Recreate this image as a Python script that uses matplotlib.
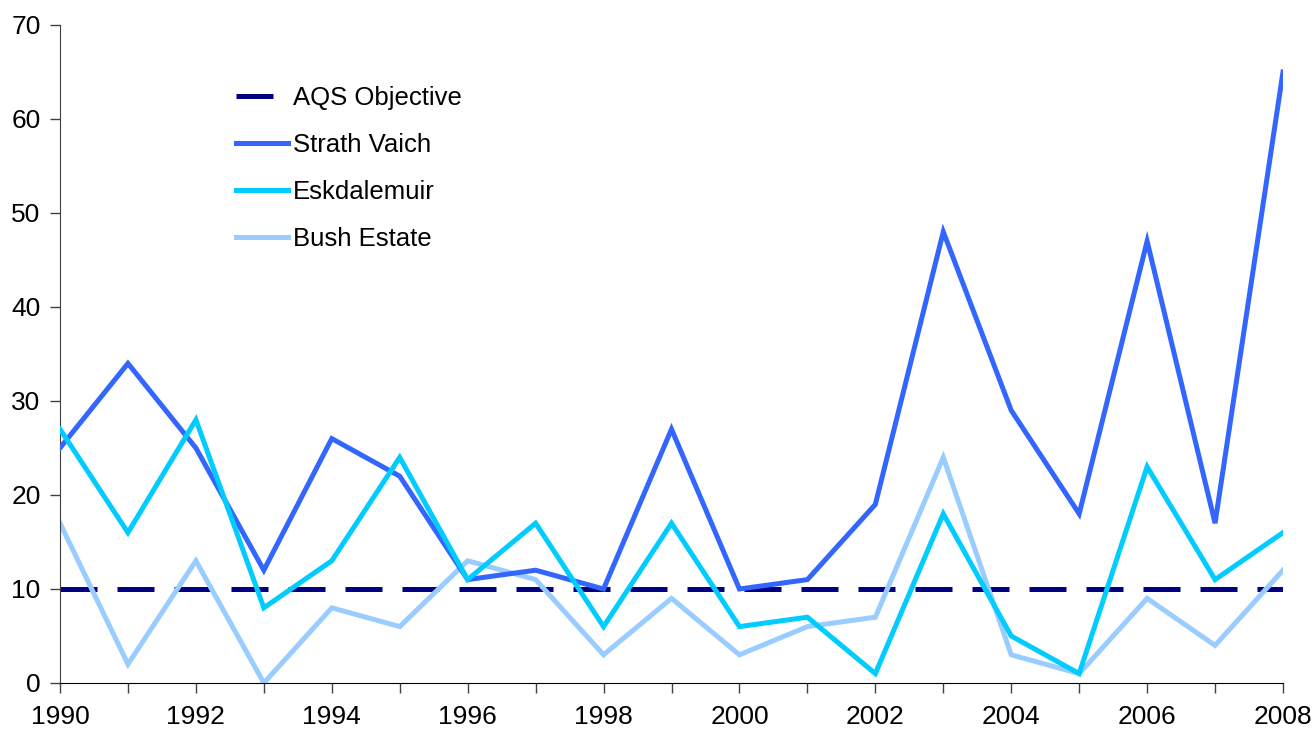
import matplotlib
matplotlib.use("Agg")
import matplotlib.pyplot as plt
from matplotlib.ticker import MultipleLocator

plt.rcParams['font.family'] = ['Liberation Sans', 'DejaVu Sans']

years = list(range(1990, 2009))
aqs_objective = [10] * len(years)
strath_vaich = [25, 34, 25, 12, 26, 22, 11, 12, 10, 27, 10, 11, 19, 48, 29, 18, 47, 17, 65]
eskdalemuir = [27, 16, 28, 8, 13, 24, 11, 17, 6, 17, 6, 7, 1, 18, 5, 1, 23, 11, 16]
bush_estate = [17, 2, 13, 0, 8, 6, 13, 11, 3, 9, 3, 6, 7, 24, 3, 1, 9, 4, 12]

fig = plt.figure(figsize=(13.12, 7.29), dpi=100)
ax = fig.add_axes([60/1312, 46/729, (1283-60)/1312, (683-25)/729])

lw = 3.6
ax.plot(years, aqs_objective, color='#000080', lw=lw, dashes=(7.4, 4.0),
        solid_capstyle='butt', dash_capstyle='butt', label='AQS Objective', zorder=2)
ax.plot(years, strath_vaich, color='#3366FF', lw=lw, label='Strath Vaich', zorder=3,
        solid_joinstyle='miter')
ax.plot(years, eskdalemuir, color='#00CCFF', lw=lw, label='Eskdalemuir', zorder=3,
        solid_joinstyle='miter')
ax.plot(years, bush_estate, color='#99CCFF', lw=lw, label='Bush Estate', zorder=2,
        solid_joinstyle='miter')

ax.set_xlim(1990, 2008)
ax.set_ylim(0, 70)
ax.xaxis.set_major_locator(MultipleLocator(2))
ax.xaxis.set_minor_locator(MultipleLocator(1))
ax.yaxis.set_major_locator(MultipleLocator(10))

for s in ['top', 'right']:
    ax.spines[s].set_visible(False)
ax.spines['left'].set_color('#404040')
ax.spines['bottom'].set_color('#000000')
ax.tick_params(axis='both', which='both', direction='out', length=7, width=1,
               color='#404040', labelsize=19)
ax.tick_params(axis='x', which='minor', length=7)
ax.tick_params(axis='x', pad=9)
ax.tick_params(axis='y', pad=7)
for lab in ax.get_xticklabels():
    lab.set_clip_on(False)

leg = ax.legend(loc='upper left', bbox_to_anchor=(236/1312, 1 - 86/729),
                bbox_transform=fig.transFigure, frameon=False, fontsize=18.5,
                handlelength=2.02, handletextpad=0.2, labelspacing=0.9,
                borderaxespad=0, borderpad=0)

fig.savefig('out.png', dpi=100)
